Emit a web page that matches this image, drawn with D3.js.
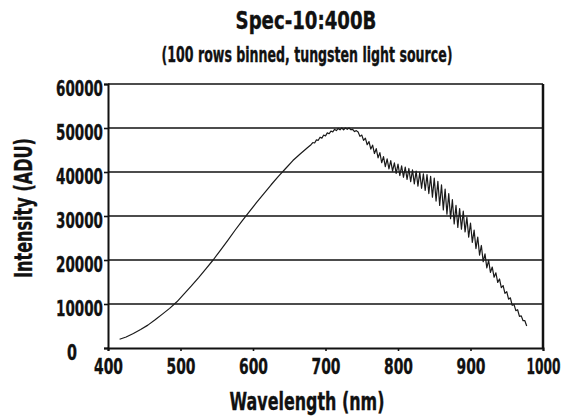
<!DOCTYPE html>
<html>
<head>
<meta charset="utf-8">
<script src="https://cdn.jsdelivr.net/npm/d3@7"></script>
<style>
  html, body { margin: 0; padding: 0; background: #fff; }
  svg { display: block; }
  text { font-family: "DejaVu Sans Condensed", "Liberation Sans Narrow", "DejaVu Sans", sans-serif; font-weight: bold; fill: #111; stroke: #111; stroke-width: 0.35px; }
</style>
</head>
<body>
<svg id="chart" width="565" height="419"></svg>
<script>
const title = "Spec-10:400B";
const subtitle = "(100 rows binned, tungsten light source)";
const xTitle = "Wavelength (nm)";
const yTitle = "Intensity (ADU)";
const xTicks = [400, 500, 600, 700, 800, 900, 1000];
const yTicks = [0, 10000, 20000, 30000, 40000, 50000, 60000];

const wavelength = [
  416, 425, 435, 445, 455, 465, 475, 485, 495, 505, 515, 525, 535, 545, 555, 565, 575, 585, 595,
  605, 615, 625, 635, 645, 655, 665, 675,
  680, 682.5, 685, 687.5, 690, 692.5, 695, 697.5, 700, 702.5, 705, 707.5, 710, 712.5, 715, 717.5,
  720, 722.5, 725, 727.5, 730, 732.5, 735, 737.5, 740, 742.5,
  745, 747.5, 750, 752.5, 755, 757.5, 760, 762.5, 765, 767.5, 770, 772.5, 775, 777.5,
  780, 782.5, 785, 787.5, 790, 792.5, 795, 797.5, 800, 802.5, 805, 807.5, 810, 812.5,
  815, 817.5, 820, 822.5, 825, 827.5, 830, 832.5, 835, 837.5, 840, 842.5, 845, 847.5,
  850, 852.5, 855, 857.5, 860, 862.5, 865, 867.5, 870, 872.5, 875, 877.5, 880, 882.5,
  885, 887.5, 890, 892.5, 895, 897.5, 900, 902.5, 905, 907.5, 910, 912.5, 915, 917.5,
  920, 922.5, 925, 927.5, 930, 932.5, 935, 937.5, 940, 942.5, 945, 947.5, 950, 952.5,
  955, 957.5, 960, 962.5, 965, 967.5, 970, 972.5, 975, 977.5
];
const intensity = [
  2000, 2500, 3300, 4200, 5200, 6400, 7700, 9000, 10500, 12300, 14100, 16000, 18000, 20000, 22200, 24400, 26700, 28900, 31000,
  33100, 35100, 37100, 39000, 40800, 42600, 44100, 45500,
  46200, 46700, 46600, 47300, 47200, 47900, 47700, 48400, 48200, 48900, 48700, 49300, 49100, 49700, 49400, 49900,
  49600, 50000, 49600, 50000, 49700, 50000, 49600, 49700, 49200, 49400,
  49100, 48100, 48400, 47200, 47700, 46200, 46900, 45200, 46100, 44200, 45300, 43200, 44400, 42100,
  43500, 41200, 43000, 40700, 42600, 40200, 42100, 39700, 41800, 39200, 41400, 38800, 41100, 38300,
  40800, 37800, 40500, 37300, 40200, 36800, 39900, 36300, 39600, 35800, 39400, 35100, 39000, 34300,
  38600, 33400, 37900, 32400, 37100, 31400, 36100, 30400, 35100, 29400, 33700, 28200, 32400, 27400,
  31700, 27000, 31100, 26400, 29700, 25200, 28400, 24000, 26800, 22600, 25200, 21100, 23300, 19600,
  21400, 18200, 19900, 17200, 18400, 16100, 17100, 14900, 15700, 13700, 14200, 12400, 12800, 11100,
  11400, 9700, 9900, 8500, 8700, 7200, 7300, 6200, 6200, 5000
];

const svg = d3.select("#chart");
const mLeft = 108, mRight = 543, mTop = 84, mBottom = 348;

const x = d3.scaleLinear().domain([400, 1000]).range([mLeft, mRight]);
const y = d3.scaleLinear().domain([0, 60000]).range([mBottom, mTop]);

// squeeze a text horizontally to a target width with a transform
function fit(sel, widthFn, prefix) {
  sel.each(function(d) {
    const node = this;
    const w = node.getComputedTextLength();
    const target = typeof widthFn === "function" ? widthFn(d) : widthFn;
    const sx = target / w;
    const tx = +node.getAttribute("x") || 0;
    const ty = +node.getAttribute("y") || 0;
    node.setAttribute("x", 0);
    node.setAttribute("y", 0);
    const pre = prefix ? prefix + " " : `translate(${tx},${ty}) `;
    node.setAttribute("transform", `${pre}scale(${sx},1)`);
  });
}

svg.append("rect").attr("width", 565).attr("height", 419).attr("fill", "#fff");

// gridlines
svg.append("g").selectAll("line").data(yTicks.filter(d => d > 0)).join("line")
  .attr("x1", mLeft).attr("x2", mRight)
  .attr("y1", d => y(d)).attr("y2", d => y(d))
  .attr("stroke", "#111").attr("stroke-width", 1.6);

// right border
svg.append("line").attr("x1", mRight).attr("x2", mRight).attr("y1", mTop).attr("y2", mBottom)
  .attr("stroke", "#111").attr("stroke-width", 2.5);

// y axis
const yAxis = svg.append("g").attr("transform", `translate(${mLeft},0)`)
  .call(d3.axisLeft(y).tickValues(yTicks).tickSize(4).tickPadding(6).tickFormat(d3.format("d")));
yAxis.select(".domain").attr("stroke", "#111").attr("stroke-width", 2);
yAxis.selectAll(".tick line").attr("stroke", "#111").attr("stroke-width", 1.6);
yAxis.selectAll(".tick text")
  .attr("font-size", 22).attr("font-family", null)
  .attr("dy", "0.5em")
  .attr("x", d => d === 0 ? -31 : -5);
fit(yAxis.selectAll(".tick text"), d => d === 0 ? 10 : 47);

// x axis
const xAxis = svg.append("g").attr("transform", `translate(0,${mBottom})`)
  .call(d3.axisBottom(x).tickValues(xTicks).tickSize(3).tickPadding(7).tickFormat(d3.format("d")));
xAxis.select(".domain").attr("stroke", "#111").attr("stroke-width", 2);
xAxis.selectAll(".tick line").attr("stroke", "#111").attr("stroke-width", 1.6);
xAxis.selectAll(".tick text")
  .attr("font-size", 22).attr("font-family", null);
fit(xAxis.selectAll(".tick text"), d => d >= 1000 ? 34 : 29);

// curve
const line = d3.line().x((d, i) => x(wavelength[i])).y(d => y(d));
svg.append("path").datum(intensity)
  .attr("d", line)
  .attr("fill", "none").attr("stroke", "#1a1a1a").attr("stroke-width", 1.2)
  .attr("stroke-linejoin", "round");

// titles
fit(svg.append("text").attr("x", 306).attr("y", 29).attr("text-anchor", "middle")
  .attr("font-size", 24).text(title), 141);
fit(svg.append("text").attr("x", 307).attr("y", 62).attr("text-anchor", "middle")
  .attr("font-size", 21).text(subtitle), 291);
fit(svg.append("text").attr("x", 307).attr("y", 410).attr("text-anchor", "middle")
  .attr("font-size", 24).text(xTitle), 155);
fit(svg.append("text").attr("text-anchor", "middle")
  .attr("font-size", 24).text(yTitle), 140, "translate(32,208) rotate(-90)");
</script>
</body>
</html>
